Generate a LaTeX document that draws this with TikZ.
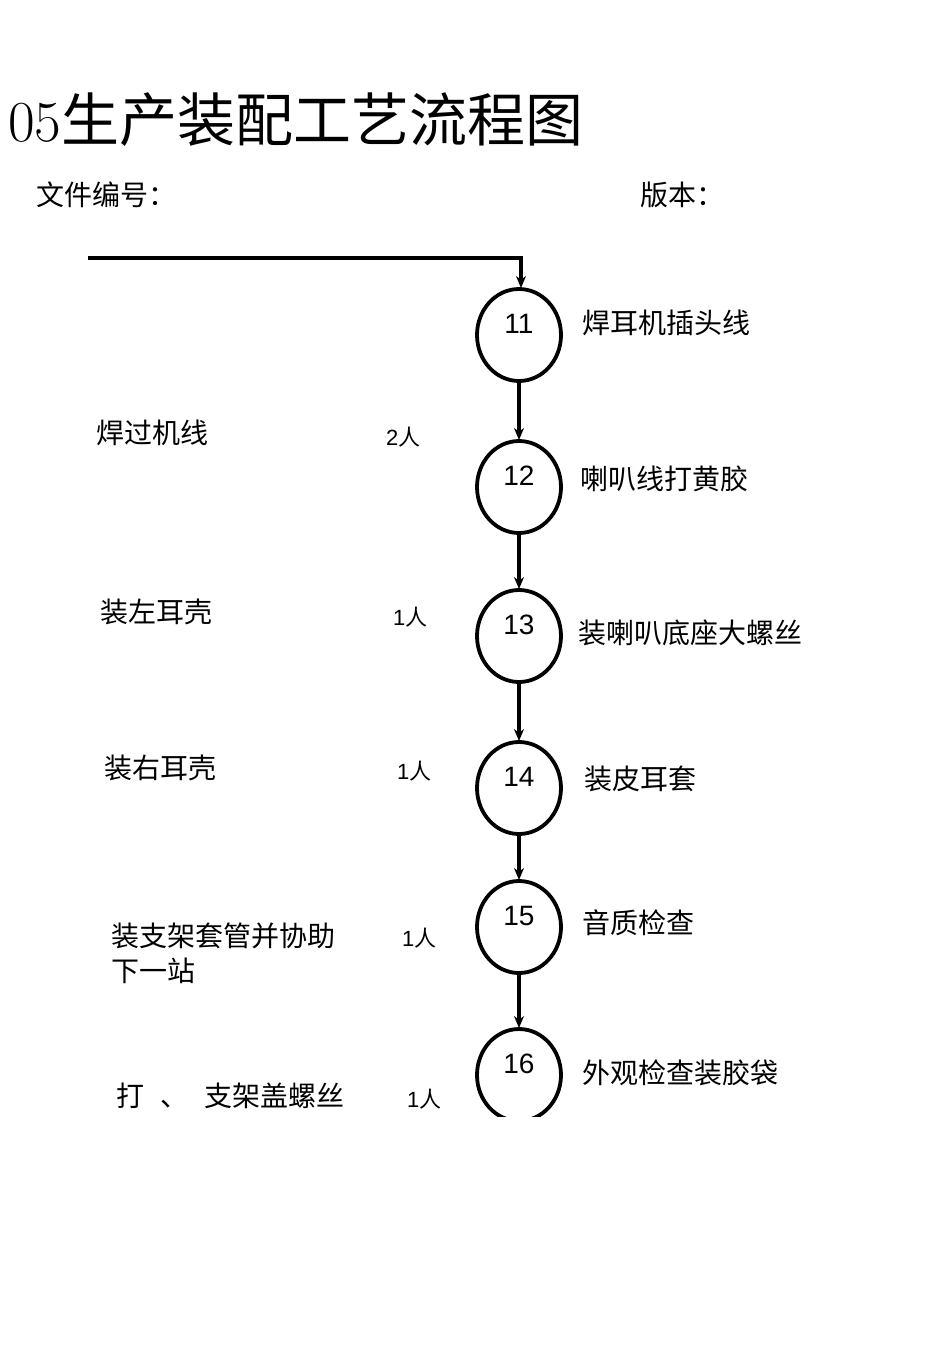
\documentclass[tikz,border=0pt]{standalone}
\usepackage{fontspec}
\newfontfamily\cjk{Noto Sans CJK SC}
\newfontfamily\hv{Liberation Sans}
\usetikzlibrary{arrows.meta}
\begin{document}
\begin{tikzpicture}[x=1pt,y=-1pt,
  lbl/.style={anchor=west,font=\cjk\fontsize{28}{33}\selectfont,inner sep=0pt},
  ppl/.style={anchor=west,font=\hv\fontsize{22}{25}\selectfont,inner sep=0pt},
  num/.style={font=\hv\fontsize{28}{30}\selectfont},
  conn/.style={line width=3.6pt,-{Stealth[length=12pt,width=10pt]}}]
\useasboundingbox (0,0) rectangle (950,1345);
\node[anchor=west,inner sep=0pt,font=\fontsize{58}{62}\selectfont] at (8,120) {05{\cjk 生产装配工艺流程图}};
\node[lbl] at (36,195) {文件编号：};
\node[lbl] at (640,195) {版本：};
\begin{scope}
\clip (0,0) rectangle (950,1116);
\foreach \n/\y in {11/335,12/487,13/636,14/788,15/927,16/1075}{
  \draw[line width=3.8pt] (519,\y) ellipse (42pt and 46pt);
  \coordinate (t\n) at (519,\y-47);
  \coordinate (b\n) at (519,\y+47);
  \node[num] (n\n) at (519,\y-11) {\n};
}
\end{scope}
\coordinate (s) at (88,258);
\draw[conn] (s) -- (521,258) -- (521,288);
\draw[conn] (b11) -- (t12);
\draw[conn] (b12) -- (t13);
\draw[conn] (b13) -- (t14);
\draw[conn] (b14) -- (t15);
\draw[conn] (b15) -- (t16);
\node[lbl] (r11) at (582,323) {焊耳机插头线};
\node[lbl] (r12) at (580,479) {喇叭线打黄胶};
\node[lbl] (r13) at (578,633) {装喇叭底座大螺丝};
\node[lbl] (r14) at (584,779) {装皮耳套};
\node[lbl] (r15) at (582,923) {音质检查};
\node[lbl] (r16) at (582,1073) {外观检查装胶袋};
\node[lbl] (l1) at (96,433) {焊过机线};
\node[lbl] (l2) at (100,612) {装左耳壳};
\node[lbl] (l3) at (104,768) {装右耳壳};
\node[lbl] (l4) at (111,936) {装支架套管并协助};
\node[lbl] (l4b) at (111,971) {下一站};
\node[lbl] (l5) at (116,1096) {打\hspace{16pt}、\hspace{16pt}支架盖螺丝};
\node[ppl] (p1) at (386,437) {2{\cjk 人}};
\node[ppl] (p2) at (393,617) {1{\cjk 人}};
\node[ppl] (p3) at (397,771) {1{\cjk 人}};
\node[ppl] (p4) at (402,938) {1{\cjk 人}};
\node[ppl] (p5) at (407,1099) {1{\cjk 人}};
\end{tikzpicture}
\end{document}
